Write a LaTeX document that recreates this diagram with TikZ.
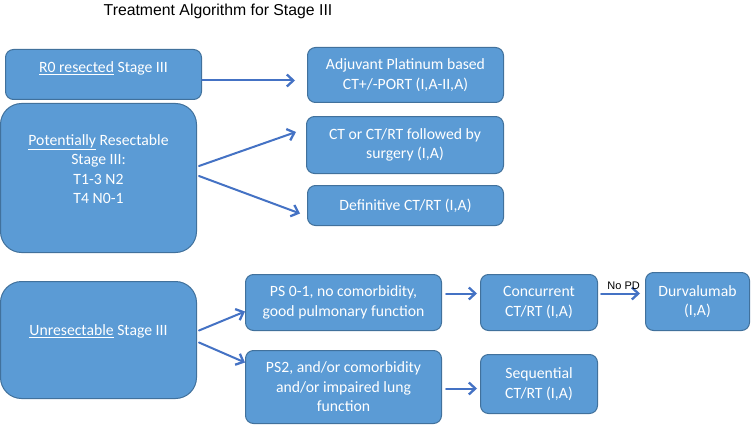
\documentclass[tikz,border=0pt]{standalone}
\usepackage{fontspec}
\setmainfont{Carlito}
\newfontfamily\arialfont{Liberation Sans}
\usetikzlibrary{arrows.meta}
\definecolor{boxfill}{HTML}{5B9BD5}
\definecolor{boxline}{HTML}{41719C}
\definecolor{arrowblue}{HTML}{4472C4}
\newcommand\lift[1]{\rule[-#1]{0pt}{#1}}
\tikzset{
  every picture/.style={line join=round, line cap=round, >=Stealth},
  stagebox/.style={draw=boxline, fill=boxfill, line width=1pt, rounded corners=8pt,
    text=white, align=center, anchor=north west, inner sep=0pt,
    font=\fontsize{15.7}{19.5}\selectfont},
  bigbox/.style={stagebox, rounded corners=21pt},
  flow/.style={-{Straight Barb[length=6.5pt,width=12pt,line width=2.3pt]}, draw=arrowblue, line width=2pt},
}
\begin{document}
\begin{tikzpicture}[x=1pt,y=-1pt]
\useasboundingbox (0,0) rectangle (751,425);
\node[font=\arialfont\fontsize{15.8}{18}\selectfont] (title) at (218,11) {Treatment Algorithm for Stage III};
% left column
\node[stagebox, minimum width=196pt, minimum height=50pt] (r0) at (5,49) {\underline{R0 resected} Stage III\lift{14pt}};
\node[bigbox, minimum width=196pt, minimum height=149pt] (potres) at (0,103) {\underline{Potentially} Resectable\\Stage III:\\T1-3 N2\\T4 N0-1\lift{18pt}};
\node[bigbox, minimum width=196pt, minimum height=117pt] (unres) at (0,281) {\underline{Unresectable} Stage III\lift{19pt}};
% treatments for resectable disease
\node[stagebox, minimum width=196pt, minimum height=55pt] (adjuv) at (307,47) {Adjuvant Platinum based\\CT+/-PORT (I,A-II,A)};
\node[stagebox, minimum width=197pt, minimum height=57pt] (ctsurg) at (306,116) {CT or CT/RT followed by\\surgery (I,A)};
\node[stagebox, minimum width=196pt, minimum height=40pt] (defin) at (307,185) {Definitive CT/RT (I,A)};
% unresectable branch
\node[stagebox, minimum width=196pt, minimum height=56pt] (psgood) at (245,274) {PS 0-1, no comorbidity,\\good pulmonary function};
\node[stagebox, minimum width=196pt, minimum height=73pt] (pspoor) at (245,350) {PS2, and/or comorbidity\\and/or impaired lung\\function};
\node[stagebox, minimum width=117pt, minimum height=56pt] (concur) at (480,274) {Concurrent\\CT/RT (I,A)};
\node[stagebox, minimum width=117pt, minimum height=59pt] (sequen) at (480,354) {Sequential\\CT/RT (I,A)};
\node[stagebox, minimum width=104pt, minimum height=58pt] (durva) at (645,272) {Durvalumab\\(I,A)};
% arrows
\draw[flow] ([yshift=-6pt]r0.east) -- ([xshift=-12pt,yshift=-5.5pt]adjuv.west);
\draw[flow] ([xshift=2pt,yshift=12pt]potres.east) -- ([xshift=-10pt,yshift=13pt]ctsurg.west);
\draw[flow] ([xshift=2pt,yshift=2pt]potres.east) -- ([xshift=-7pt,yshift=-8pt]defin.west);
\draw[flow] ([xshift=2pt,yshift=9.5pt]unres.east) -- ([yshift=-9pt]psgood.west);
\draw[flow] ([xshift=2pt,yshift=-2.5pt]unres.east) -- ([yshift=24.5pt]pspoor.west);
\draw[flow] ([xshift=4pt,yshift=9pt]psgood.east) -- ([xshift=-3pt,yshift=9pt]concur.west);
\draw[flow] ([xshift=4pt,yshift=-1.5pt]pspoor.east) -- ([xshift=-3pt,yshift=-4.5pt]sequen.west);
\draw[flow] ([xshift=3pt,yshift=9pt]concur.east) -- node[above=0pt, pos=0.58, text=black, font=\arialfont\fontsize{11}{13}\selectfont] {No PD} ([xshift=-5pt,yshift=8pt]durva.west);
\end{tikzpicture}
\end{document}
